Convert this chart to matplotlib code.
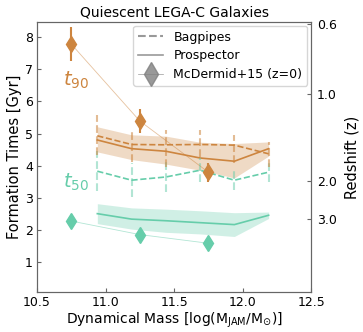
import matplotlib
matplotlib.use("Agg")
import matplotlib.pyplot as plt
from matplotlib.lines import Line2D
import numpy as np

# binned LEGA-C results
masses = [10.94, 11.19, 11.44, 11.69, 11.94, 12.19]

prosp_t90 = [4.80, 4.53, 4.45, 4.24, 4.14, 4.53]
prosp_t90_lo = [4.43, 4.19, 4.05, 3.86, 3.62, 4.30]
prosp_t90_hi = [5.21, 4.96, 4.92, 4.73, 4.69, 4.74]
prosp_t50 = [2.51, 2.34, 2.29, 2.23, 2.17, 2.46]
prosp_t50_lo = [2.20, 2.03, 1.93, 1.88, 1.80, 2.36]
prosp_t50_hi = [2.82, 2.69, 2.65, 2.60, 2.54, 2.56]

bag_t90 = [4.93, 4.66, 4.65, 4.66, 4.64, 4.37]
bag_t90_lo = [4.32, 4.12, 3.96, 4.27, 4.10, 3.96]
bag_t90_hi = [5.57, 5.13, 5.10, 5.10, 4.97, 4.74]
bag_t50 = [3.83, 3.55, 3.65, 3.86, 3.55, 3.80]
bag_t50_err = [0.62, 0.52, 0.47, 0.37, 0.32, 0.31]

# McDermid+15 (z=0) ATLAS3D
mcd_mass = [10.75, 11.25, 11.75]
mcd_t90 = [7.78, 5.39, 3.80]
mcd_t90_err = [0.52, 0.38, 0.30]
mcd_t50 = [2.28, 1.86, 1.59]
mcd_t50_err = [0.10, 0.10, 0.10]

# redshift axis ticks (age of universe at z)
z_ticks = ["0.6", "1.0", "2.0", "3.0"]
z_ages = [8.40, 6.22, 3.51, 2.33]

c90 = "peru"
c50 = "mediumaquamarine"

fig = plt.figure(figsize=(3.63, 3.32), dpi=100)
ax = fig.add_axes([0.102, 0.12, 0.755, 0.814])

def lohi(mid, lo, hi):
    mid = np.array(mid)
    return [mid - np.array(lo), np.array(hi) - mid]

for col, p, plo, phi in [(c90, prosp_t90, prosp_t90_lo, prosp_t90_hi),
                         (c50, prosp_t50, prosp_t50_lo, prosp_t50_hi)]:
    ax.fill_between(masses, plo, phi, color=col, alpha=0.3, lw=0)
    ax.plot(masses, p, color=col, lw=1.2)

eb = ax.errorbar(masses, bag_t50, yerr=bag_t50_err, color=c50, ls="--", lw=1.2,
                 elinewidth=1.5, ecolor=c50)
eb[2][0].set_linestyle("--")
eb[2][0].set_alpha(0.5)
eb = ax.errorbar(masses, bag_t90, yerr=lohi(bag_t90, bag_t90_lo, bag_t90_hi),
                 color=c90, ls="--", lw=1.2, elinewidth=1.5, ecolor=c90)
eb[2][0].set_linestyle("--")
eb[2][0].set_alpha(0.55)

for col, t, e in [(c90, mcd_t90, mcd_t90_err), (c50, mcd_t50, mcd_t50_err)]:
    ax.plot(mcd_mass, t, color=col, lw=0.6, alpha=0.5)
    ax.errorbar(mcd_mass, t, yerr=e, fmt="d", color=col, ms=8, elinewidth=1.5, ls="none")

ax.text(10.785, 6.66, r"$t_{90}$", color=c90, fontsize=14, ha="center", va="center")
ax.text(10.785, 3.48, r"$t_{50}$", color=c50, fontsize=14, ha="center", va="center")

ax.set_xlim(10.5, 12.5)
ax.set_ylim(0.07, 8.47)
ax.set_xticks([10.5, 11.0, 11.5, 12.0, 12.5])
ax.set_yticks([1, 2, 3, 4, 5, 6, 7, 8])
ax.tick_params(labelsize=9, direction="in", length=3, pad=3, color="#666666")
ax.set_xlabel(r"Dynamical Mass [log(M$_{\rm JAM}$/M$_{\odot}$)]", fontsize=10, labelpad=1)
ax.set_ylabel("Formation Times [Gyr]", fontsize=10.5, labelpad=2)
ax.set_title("Quiescent LEGA-C Galaxies", fontsize=10, pad=4)

ax2 = ax.twinx()
ax2.set_ylim(ax.get_ylim())
ax2.set_yticks(z_ages)
ax2.set_yticklabels(z_ticks)
ax2.tick_params(labelsize=9, direction="in", length=3, pad=4, color="#666666")
ax2.set_ylabel("Redshift (z)", fontsize=10.5, labelpad=6)

for a in (ax, ax2):
    for s in a.spines.values():
        s.set_color("#666666")
        s.set_linewidth(0.8)

handles = [
    Line2D([], [], color="gray", ls="--", lw=1.5, alpha=0.8),
    Line2D([], [], color="gray", ls="-", lw=1.2, alpha=0.8),
    Line2D([], [], color="gray", ls="-", lw=0.5, alpha=0.8, marker="d", ms=12),
]
ax.legend(handles, ["Bagpipes", "Prospector", "McDermid+15 (z=0)"], loc="upper right",
          fontsize=9, handlelength=2.0, borderaxespad=0.3, labelspacing=0.45)

fig.savefig("out.png", dpi=100)
